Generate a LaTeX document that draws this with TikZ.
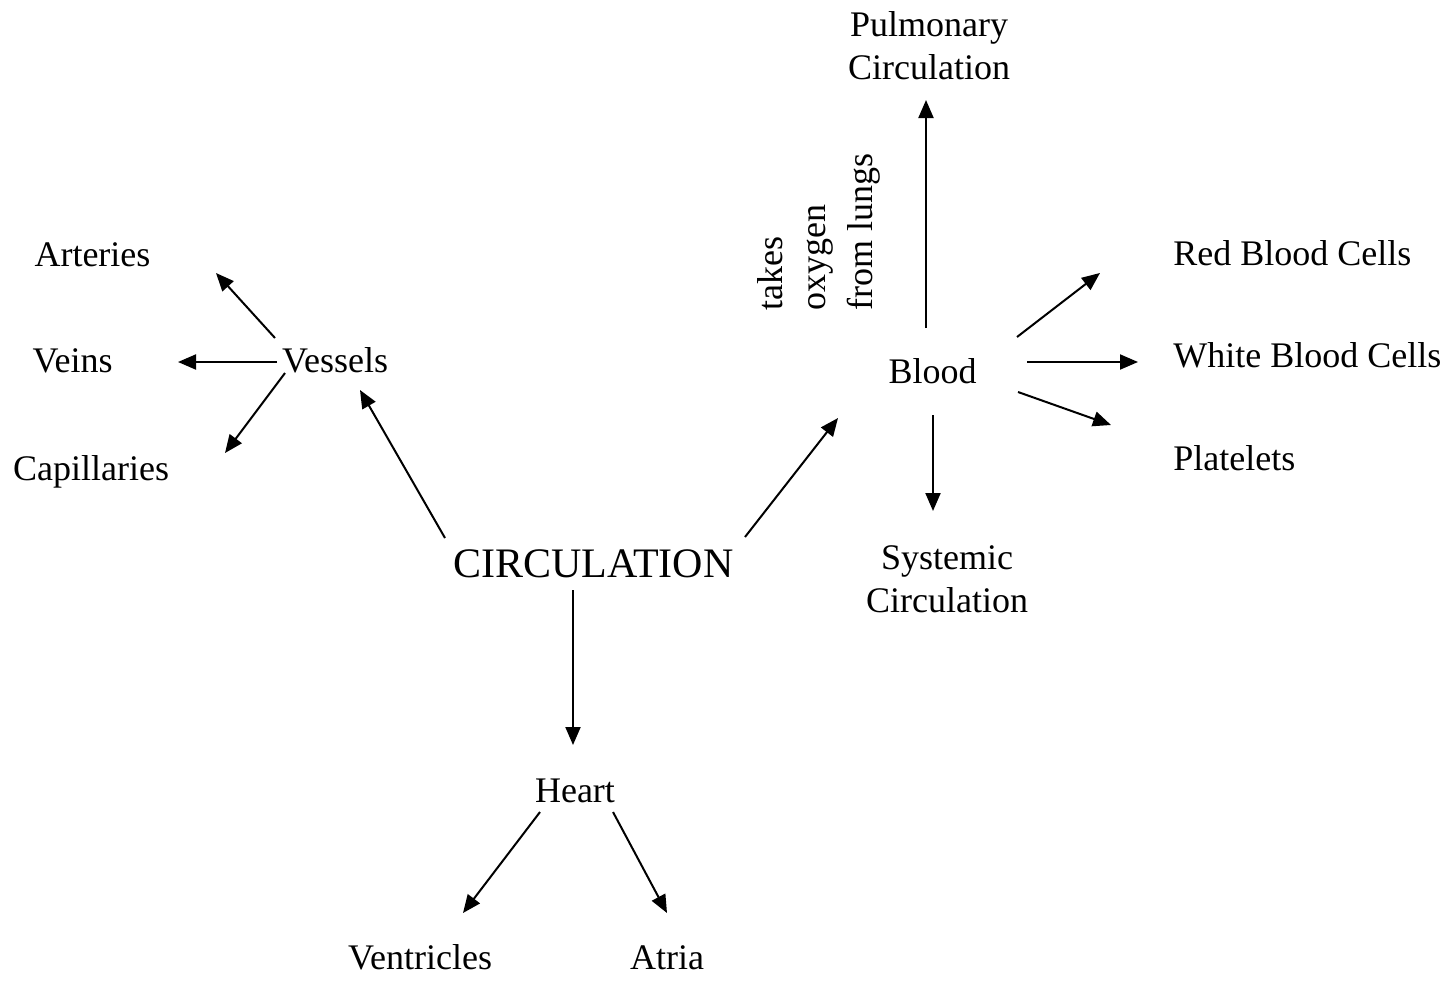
\documentclass[tikz,border=0pt]{standalone}
\usepackage{fontspec}
\setmainfont{Liberation Serif}
\usetikzlibrary{arrows.meta}
\begin{document}
\begin{tikzpicture}[x=0.5pt,y=-0.5pt,
  lbl/.style={inner sep=0pt,anchor=base,font=\fontsize{18}{21.5}\selectfont},
  big/.style={inner sep=0pt,anchor=base,font=\fontsize{21}{25}\selectfont},
  arr/.style={line width=1pt,-{Triangle[length=9pt,width=7.5pt]}}]
\useasboundingbox (0,0) rectangle (1445,980);

% concepts
\node[big] (circ) at (593.5,577) {CIRCULATION};
\node[lbl] (vessels) at (335,372) {Vessels};
\node[lbl] (arteries) at (92.5,266) {Arteries};
\node[lbl] (veins) at (72.5,372) {Veins};
\node[lbl] (capill) at (91,480) {Capillaries};
\node[lbl] (heart) at (575,802) {Heart};
\node[lbl] (ventr) at (420,969) {Ventricles};
\node[lbl] (atria) at (667,969) {Atria};
\node[lbl] (blood) at (932.5,383) {Blood};
% two-line labels: base anchor sits on the last line
\node[lbl,align=center] (pulm) at (929,79) {Pulmonary\\Circulation};
\node[lbl,align=center] (syst) at (947,612) {Systemic\\Circulation};
\node[lbl,anchor=base west] (rbc) at (1173,265) {Red Blood Cells};
\node[lbl,anchor=base west] (wbc) at (1173,367) {White Blood Cells};
\node[lbl,anchor=base west] (plat) at (1173,470) {Platelets};

% vertical note beside the pulmonary link
\node[lbl,anchor=base west,rotate=90] (note1) at (782,311) {takes};
\node[lbl,anchor=base west,rotate=90] (note2) at (825,311) {oxygen};
\node[lbl,anchor=base west,rotate=90] (note3) at (872,311) {from lungs};

% connector end points
\coordinate (c-v0) at (445,538);  \coordinate (c-v1) at (360,390);
\coordinate (c-b0) at (745,537);  \coordinate (c-b1) at (838,418);
\coordinate (c-h0) at (573,590);  \coordinate (c-h1) at (573,745);
\coordinate (v-a0) at (275,338);  \coordinate (v-a1) at (216,273);
\coordinate (v-v0) at (277,362);  \coordinate (v-v1) at (178,362);
\coordinate (v-c0) at (285,373);  \coordinate (v-c1) at (225,453);
\coordinate (h-v0) at (540,812);  \coordinate (h-v1) at (463,913);
\coordinate (h-a0) at (613,812);  \coordinate (h-a1) at (667,913);
\coordinate (b-p0) at (926,328);  \coordinate (b-p1) at (926,100);
\coordinate (b-s0) at (933,415);  \coordinate (b-s1) at (933,511);
\coordinate (b-r0) at (1017,337); \coordinate (b-r1) at (1100,273);
\coordinate (b-w0) at (1027,362); \coordinate (b-w1) at (1138,362);
\coordinate (b-l0) at (1018,392); \coordinate (b-l1) at (1111,425);

% connectors
\draw[arr] (c-v0) -- (c-v1);
\draw[arr] (c-b0) -- (c-b1);
\draw[arr] (c-h0) -- (c-h1);
\draw[arr] (v-a0) -- (v-a1);
\draw[arr] (v-v0) -- (v-v1);
\draw[arr] (v-c0) -- (v-c1);
\draw[arr] (h-v0) -- (h-v1);
\draw[arr] (h-a0) -- (h-a1);
\draw[arr] (b-p0) -- (b-p1);
\draw[arr] (b-s0) -- (b-s1);
\draw[arr] (b-r0) -- (b-r1);
\draw[arr] (b-w0) -- (b-w1);
\draw[arr] (b-l0) -- (b-l1);
\end{tikzpicture}
\end{document}
